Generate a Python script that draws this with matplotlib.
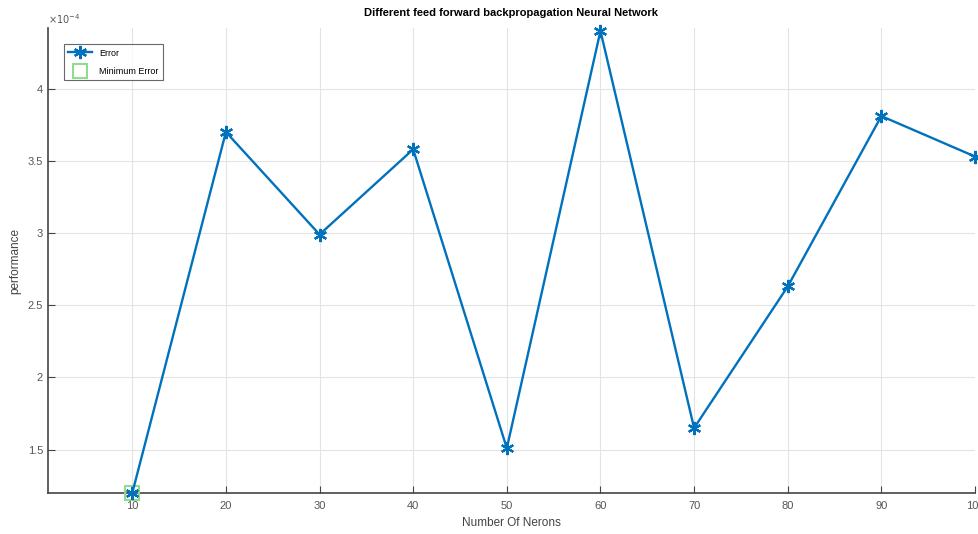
import numpy as np
import matplotlib.pyplot as plt
from matplotlib.ticker import FuncFormatter

plt.rcParams['font.family'] = ['Liberation Sans', 'DejaVu Sans']

neurons = [10, 20, 30, 40, 50, 60, 70, 80, 90, 100]
error = [1.20e-4, 3.70e-4, 2.99e-4, 3.58e-4, 1.51e-4, 4.40e-4, 1.65e-4, 2.63e-4, 3.81e-4, 3.53e-4]

i_min = int(np.argmin(error))

fig = plt.figure(figsize=(9.79, 5.34), dpi=100)
ax = fig.add_axes([48 / 979, 1 - 493 / 534, (975 - 48) / 979, (493 - 28) / 534])

ax.plot(neurons[i_min], error[i_min], ls='none', marker='s', ms=10,
        mfc='none', mec='#8fdc8f', mew=1.5, label='Minimum Error',
        clip_on=False, zorder=3)
ax.plot(neurons, error, color='#0072BD', lw=1.7, marker=(6, 2, 0), ms=9.5,
        mec='#0072BD', mew=1.6, label='Error', clip_on=False, zorder=4)

ax.set_xlim(1, 100)
ax.set_ylim(1.2e-4, 4.42e-4)
ax.set_xticks(neurons)
ax.set_yticks([1.5e-4, 2e-4, 2.5e-4, 3e-4, 3.5e-4, 4e-4])
ax.yaxis.set_major_formatter(FuncFormatter(lambda v, p: f'{v * 1e4:g}'))
ax.text(0, 1.005, r'$\times10^{-4}$', transform=ax.transAxes, fontsize=7,
        color='#555555', ha='left', va='bottom')

ax.grid(True, color='#e3e3e3', lw=0.8)
ax.set_axisbelow(True)
for s in ['top', 'right']:
    ax.spines[s].set_visible(False)
for s in ['left', 'bottom']:
    ax.spines[s].set_color('#444444')
    ax.spines[s].set_linewidth(1.2)
ax.tick_params(direction='in', length=5, labelsize=8, colors='#444444',
               labelcolor='#555555')
ax.tick_params(axis='x', pad=6)

ax.set_title('Different feed forward backpropagation Neural Network',
             fontsize=8, fontweight='bold', pad=9)
ax.set_xlabel('Number Of Nerons', fontsize=8.5, color='#444444', labelpad=4)
ax.set_ylabel('performance', fontsize=8.5, color='#444444', labelpad=5)

h, l = ax.get_legend_handles_labels()
leg = ax.legend(h[::-1], l[::-1], loc='upper left', bbox_to_anchor=(0.012, 0.975),
                fontsize=6.5, frameon=True, fancybox=False, edgecolor='#444444',
                borderpad=0.5, handlelength=2.6, labelspacing=1.0)
leg.get_frame().set_linewidth(0.8)

fig.savefig('out.png', dpi=100)
